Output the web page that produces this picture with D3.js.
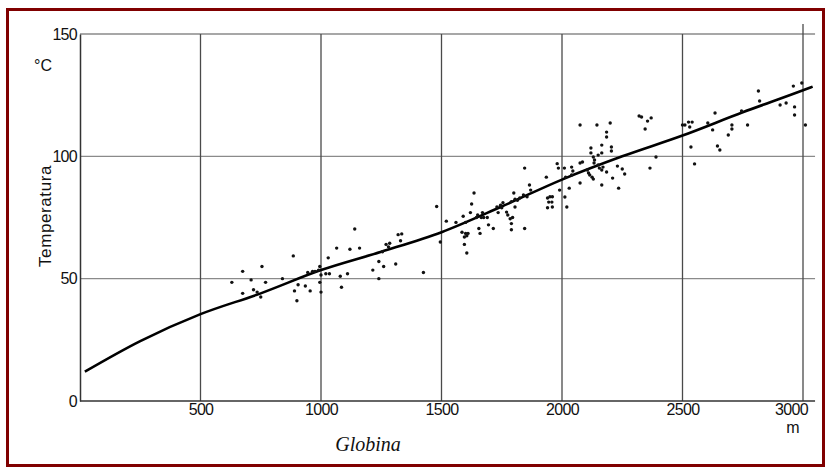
<!DOCTYPE html>
<html><head><meta charset="utf-8">
<script src="https://cdn.jsdelivr.net/npm/d3@7"></script>
<style>
html,body{margin:0;padding:0;background:#fff;}
svg{display:block;}
</style></head>
<body>
<script>
// ---- data ----
const xTicks = [500, 1000, 1500, 2000, 2500, 3000];
const yTicks = [0, 50, 100, 150];
const curveDepth = [20, 250, 500, 750, 1000, 1250, 1500, 1750, 2000, 2250, 2500, 2750, 3000, 3040];
const curveTemp  = [12, 24.5, 35.5, 44, 53.5, 61, 69, 79.5, 90.5, 100, 108.5, 118, 127, 128.5];
const pointDepth = [630,675,675,710,720,735,750,755,770,840,885,890,900,905,935,955,945,965,975,990,995,1000,1020,1035,995,1000,1030,1065,
 1140,1120,1160,1080,1085,1110,1215,1240,1240,1260,1310,1255,1270,1285,1280,1320,1335,1330,1425,1495,1480,
 1520,1560,1590,1600,1585,1600,1605,1595,1610,1595,1605,1625,1635,1620,1645,1650,1665,1670,1655,1660,1675,1690,1695,1715,
 1730,1745,1750,1755,1735,1770,1775,1785,1790,1790,1795,1790,1805,1815,1825,1840,1855,1800,1845,1845,1805,1865,1870,
 1935,1940,1950,1960,1958,1945,1940,1960,1980,1985,1990,2010,2015,2012,2020,2030,2040,2045,2040,2075,2075,2085,2075,
 2105,2110,2115,2125,2130,2120,2120,2130,2135,2133,2150,2165,2150,2155,2165,2170,2145,2165,2165,2185,2185,2200,2205,2205,
 2185,2210,2230,2235,2250,2260,2320,2330,2355,2370,2345,2390,2365,
 2500,2510,2525,2540,2530,2535,2550,2635,2605,2625,2645,2655,2705,2705,2690,2745,2770,2815,2820,2905,2930,2960,2965,2965,2995,3010];
const pointTemp = [48.5,53,44,49.5,45.5,44.5,42.5,55,48.5,50,59.3,45,41,47.5,47,45,52.5,53,53,53.5,55,51.5,52,52,48.5,44.5,58.5,62.5,
 70.3,62,62.5,51,46.5,52,53.5,57,50,55,56,61,64,64.5,63,68,68.3,65.5,52.5,65,79.5,
 73.5,73,75.5,73,69,68.5,67.5,67,68.5,64,60.5,80.5,85,77,75,76,75,77,70.5,68.5,75,75,72,70.5,
 79.3,80,79,81,77,77.2,76,74.5,72.5,70,75,81.5,82.5,82,83,84.2,83.5,85,95.2,70.5,79.3,88.3,86.2,
 91.5,83,83.5,83.5,81.3,81.3,79,79.3,97,95.2,86.2,95.2,91.5,83.4,79.3,87,95.6,94,92.4,112.8,97.3,97.7,89.1,
 94.4,93.2,92.4,91.5,90.7,103.4,101.4,99.7,98.5,97.3,100.5,101.4,96.5,95.2,94.4,95.6,112.8,104.6,88.3,109.9,107.9,113.6,103.8,102.2,
 93.6,91.1,96,87,94.8,92.8,116.5,116.1,114.4,115.7,111.2,99.7,95.2,
 112.8,112.8,114,114,112,103.8,96.9,117.7,113.6,110.8,104.2,102.6,112.8,111.2,108.7,118.5,112.8,126.7,122.6,121,121.8,128.7,120.2,116.9,130,112.8];

// ---- chart ----
const W = 828, H = 469;
const svg = d3.select("body").append("svg").attr("width", W).attr("height", H);

const x = d3.scaleLinear().domain([0, 3000]).range([80, 803]);
const y = d3.scaleLinear().domain([0, 150]).range([401, 34]);
const xEnd = x(3050);
const fmt = d3.format("d");

// frame
svg.append("rect").attr("x", 7.5).attr("y", 9.5).attr("width", 816).attr("height", 456)
  .attr("fill", "#fff").attr("stroke", "#800000").attr("stroke-width", 3);

// horizontal grid lines
svg.append("g").selectAll("line").data(yTicks.filter(d => d > 0)).join("line")
  .attr("x1", x(0)).attr("x2", xEnd).attr("y1", d => y(d)).attr("y2", d => y(d))
  .attr("stroke", "#8a8a8a").attr("stroke-width", 1.3);

// vertical grid lines
svg.append("g").selectAll("line").data(xTicks).join("line")
  .attr("x1", d => x(d)).attr("x2", d => x(d)).attr("y1", d => d === 3000 ? y(150) - 10 : y(150)).attr("y2", y(0))
  .attr("stroke", "#4a4a4a").attr("stroke-width", 1.3);

// axes
const fontSans = "'Liberation Sans', Arial, sans-serif";
const yAxis = svg.append("g").attr("transform", `translate(${x(0)},0)`)
  .call(d3.axisLeft(y).tickValues(yTicks).tickFormat(fmt).tickSize(0).tickPadding(3));
yAxis.select(".domain").attr("stroke", "#333").attr("stroke-width", 1.5);
yAxis.selectAll("text").attr("font-family", fontSans).attr("font-size", 16)
  .attr("letter-spacing", -0.7).attr("fill", "#111");

const xAxis = svg.append("g").attr("transform", `translate(0,${y(0)})`)
  .call(d3.axisBottom(x).tickValues(xTicks).tickFormat(fmt).tickSize(0).tickPadding(3));
xAxis.select(".domain").remove();
svg.append("line").attr("x1", x(0)).attr("x2", xEnd).attr("y1", y(0)).attr("y2", y(0))
  .attr("stroke", "#333").attr("stroke-width", 1.5);
xAxis.selectAll("text").attr("font-family", fontSans).attr("font-size", 16)
  .attr("letter-spacing", -0.7).attr("fill", "#111")
  .attr("dx", d => d === 3000 ? -12 : 0);

// unit labels
svg.append("text").attr("x", 43).attr("y", 71).attr("text-anchor", "middle")
  .attr("font-family", fontSans).attr("font-size", 16).attr("fill", "#111").text("°C");
svg.append("text").attr("x", x(3000) - 10).attr("y", 433).attr("text-anchor", "middle")
  .attr("font-family", fontSans).attr("font-size", 16).attr("fill", "#111").text("m");

svg.append("text").attr("transform", "translate(51,216) rotate(-90)").attr("text-anchor", "middle")
  .attr("font-family", fontSans).attr("font-size", 17).attr("letter-spacing", 0.6)
  .attr("fill", "#111").text("Temperatura");
svg.append("text").attr("x", 368).attr("y", 451).attr("text-anchor", "middle")
  .attr("font-family", "'Liberation Serif', 'DejaVu Serif', serif").attr("font-style", "italic")
  .attr("font-size", 20).attr("fill", "#111").text("Globina");

// curve
const curvePts = curveDepth.map((d, i) => [d, curveTemp[i]]);
svg.append("path").datum(curvePts)
  .attr("d", d3.line().x(d => x(d[0])).y(d => y(d[1])).curve(d3.curveMonotoneX))
  .attr("fill", "none").attr("stroke", "#000").attr("stroke-width", 2.6);

// points
const pts = pointDepth.map((d, i) => [d, pointTemp[i]]);
svg.append("g").selectAll("circle").data(pts).join("circle")
  .attr("cx", d => x(d[0])).attr("cy", d => y(d[1])).attr("r", 1.7).attr("fill", "#111");
</script>
</body></html>
